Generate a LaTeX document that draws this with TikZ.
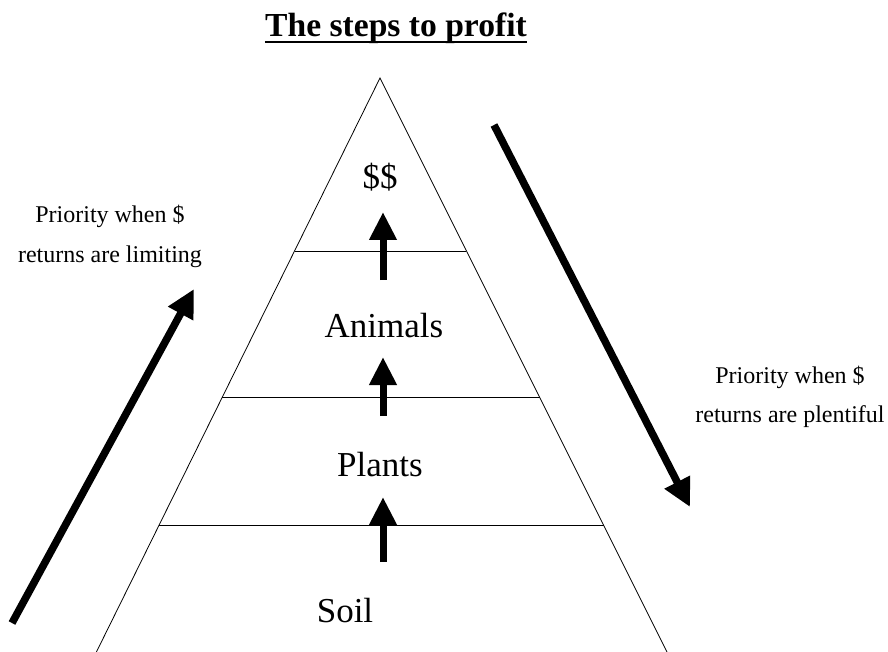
\documentclass[tikz,border=0pt]{standalone}
\usepackage{fontspec}
\setmainfont{Liberation Serif}
\usetikzlibrary{arrows.meta}
\tikzset{
  edge/.style={line width=0.8pt},
  uparrow/.style={line width=7pt, -{Triangle[length=28pt,width=26pt]}},
  bigarrow/.style={line width=7.5pt, -{Triangle[length=28pt,width=27pt]}},
  level/.style={anchor=base, inner sep=0pt, font=\fontsize{35}{40}\selectfont},
  side/.style={anchor=base, inner sep=0pt, align=center},
}
\begin{document}
\begin{tikzpicture}[x=1pt,y=-1pt]
\useasboundingbox (0,0) rectangle (888,652);
% title
\node[anchor=base, inner sep=0pt, font=\fontsize{33.6}{38}\selectfont\bfseries] (title) at (396,37) {The steps to profit};
\draw[line width=2.5pt] ([yshift=-5pt]title.base west) -- ([yshift=-5pt]title.base east);
% triangle
\coordinate (apex) at (380,78);
\coordinate (bl) at (96.4,652);
\coordinate (br) at (667,652);
\draw[edge] (bl) -- (apex) -- (br);
\draw[edge] (295,251) -- (466,251);
\draw[edge] (222,397) -- (539.5,397);
\draw[edge] (159,525) -- (603.5,525);
% labels
\node[level] (money) at (380,189) {\$\$};
\node[level] (animals) at (384,337) {Animals};
\node[level] (plants) at (380,476) {Plants};
\node[level] (soil) at (345,622) {Soil};
% up arrows
\coordinate (a1s) at (383,280); \coordinate (a1e) at (383,212);
\coordinate (a2s) at (383,416); \coordinate (a2e) at (383,357);
\coordinate (a3s) at (383,562); \coordinate (a3e) at (383,497);
\draw[uparrow] (a1s) -- (a1e);
\draw[uparrow] (a2s) -- (a2e);
\draw[uparrow] (a3s) -- (a3e);
% side texts
\node[side, font=\fontsize{24}{40}\selectfont] (ltext) at (110,262) {Priority when \$\\returns are limiting};
\node[side, font=\fontsize{24}{39}\selectfont] (rtext) at (790,422) {Priority when \$\\returns are plentiful};
% diagonal arrows
\coordinate (ls) at (12,623); \coordinate (le) at (194,289);
\coordinate (rs) at (494,125); \coordinate (re) at (690,507);
\draw[bigarrow] (ls) -- (le);
\draw[bigarrow] (rs) -- (re);
\end{tikzpicture}
\end{document}
